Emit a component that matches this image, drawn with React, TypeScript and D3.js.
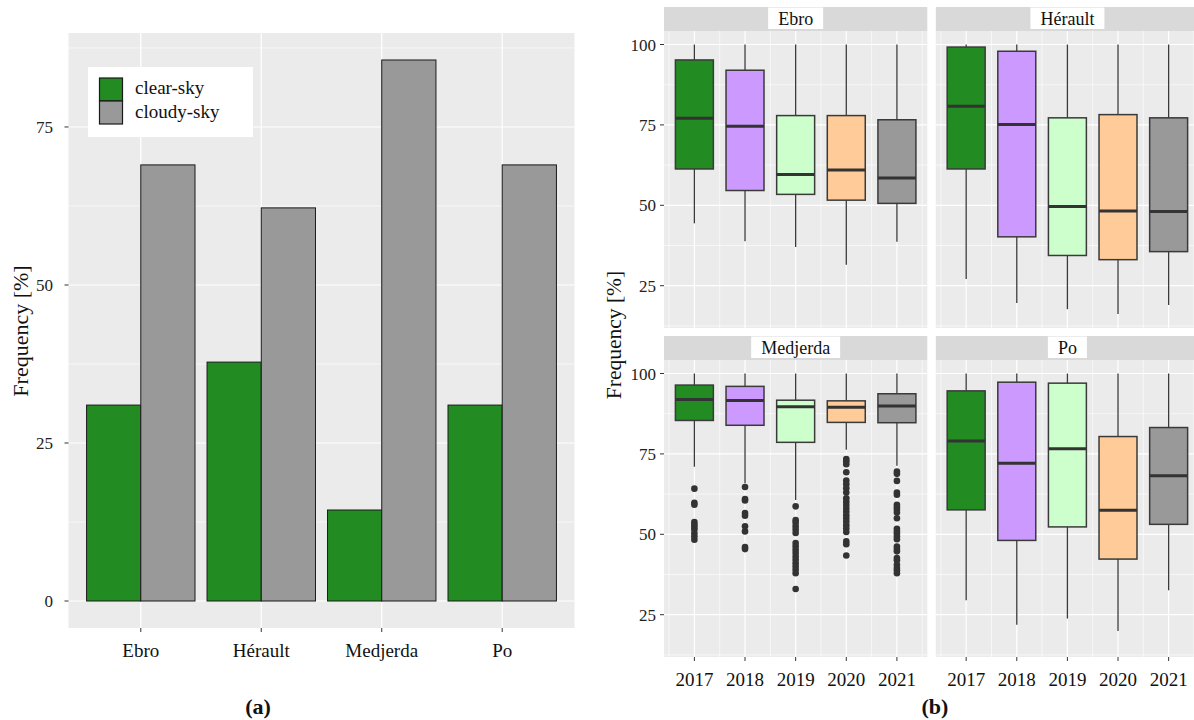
import * as d3 from 'd3';

// ── data: panel (a) ──
const regions = ['Ebro', 'Hérault', 'Medjerda', 'Po'];
const skyLabels = ['clear-sky', 'cloudy-sky'];
const skyColors = ['#228B22', '#999999'];
const clearSky = [31.0, 37.8, 14.4, 31.0];
const cloudySky = [69.0, 62.2, 85.6, 69.0];
const barTicks = [0, 25, 50, 75];

// ── data: panel (b) — [lower, q1, median, q3, upper] per year ──
const years = ['2017', '2018', '2019', '2020', '2021'];
const yearColors = ['#228B22', '#CC99FF', '#CCFFCC', '#FFCC99', '#999999'];
const boxTicks = [25, 50, 75, 100];

const ebroBoxes = [
  [44.4, 61.3, 77.1, 95.2, 100],
  [38.8, 54.6, 74.6, 92.0, 100],
  [37.0, 53.4, 59.6, 77.9, 100],
  [31.5, 51.6, 61.0, 77.9, 100],
  [38.7, 50.6, 58.5, 76.6, 100],
];
const heraultBoxes = [
  [27.1, 61.3, 80.8, 99.2, 100],
  [19.6, 40.2, 75.1, 97.9, 100],
  [17.7, 34.4, 49.6, 77.2, 100],
  [16.2, 33.1, 48.2, 78.2, 100],
  [19.0, 35.6, 48.1, 77.2, 100],
];
const medjerdaBoxes = [
  [71.0, 85.4, 91.9, 96.4, 100],
  [65.9, 83.9, 91.6, 96.0, 100],
  [60.7, 78.6, 89.7, 91.7, 100],
  [76.3, 84.8, 89.5, 91.5, 100],
  [71.3, 84.7, 89.9, 93.7, 100],
];
const poBoxes = [
  [29.5, 57.6, 79.0, 94.6, 100],
  [21.9, 48.1, 72.1, 97.3, 100],
  [23.8, 52.3, 76.6, 97.0, 100],
  [19.9, 42.3, 57.5, 80.4, 100],
  [32.6, 53.1, 68.2, 83.2, 100],
];
const medjerdaOutliers = [
  [64.2, 59.8, 59.2, 53.8, 53.0, 52.3, 51.5, 50.3, 49.3, 48.3],
  [64.7, 61.0, 60.5, 56.6, 55.8, 52.5, 50.9, 46.0, 45.4],
  [58.7, 54.4, 53.6, 52.5, 51.5, 50.4, 47.3, 46.3, 45.2, 44.2, 43.1, 42.1, 41.0, 40.0, 39.0, 37.9, 33.0],
  [73.4, 72.7, 71.8, 69.3, 66.7, 65.6, 64.3, 63.0, 61.2, 60.1, 59.1, 58.0, 57.0, 55.9, 54.9, 53.9, 52.8, 51.8, 50.7, 47.8, 46.9, 43.4],
  [69.5, 68.8, 66.6, 63.0, 62.3, 59.2, 58.4, 57.6, 56.8, 55.0, 51.7, 50.9, 50.2, 49.3, 48.5, 46.2, 45.4, 44.7, 42.6, 41.9, 40.5, 39.5, 38.8, 37.9],
];
const noOutliers = [[], [], [], [], []];

const facetBoxes = [ebroBoxes, heraultBoxes, medjerdaBoxes, poBoxes];
const facetOutliers = [noOutliers, noOutliers, medjerdaOutliers, noOutliers];

const FONT = "'Liberation Serif', 'DejaVu Serif', 'Times New Roman', serif";
const PANEL_BG = '#EBEBEB';
const STRIP_BG = '#D9D9D9';
const AXIS = '#333333';

// 대략적인 텍스트 폭 (strip 라벨 박스용)
function textWidth(txt: string, size: number) {
  const c = document.createElement('canvas').getContext('2d');
  if (!c) return txt.length * size * 0.5;
  c.font = `${size}px ${FONT}`;
  return c.measureText(txt).width;
}

function BarPanel() {
  const left = 68.5, right = 574.5, top = 33, bottom = 628;
  const x = d3.scaleLinear().domain([0.4, 4.6]).range([left, right]);
  const y = d3.scaleLinear().domain([-4.27, 89.87]).range([bottom, top]);
  const minor = barTicks.map((t) => t + 12.5);

  return (
    <g>
      <rect x={left} y={top} width={right - left} height={bottom - top} fill={PANEL_BG} />
      {minor.map((t) => (
        <line key={'m' + t} x1={left} x2={right} y1={y(t)} y2={y(t)} stroke="#fff" strokeWidth={0.6} />
      ))}
      {barTicks.map((t) => (
        <line key={'M' + t} x1={left} x2={right} y1={y(t)} y2={y(t)} stroke="#fff" strokeWidth={1.2} />
      ))}
      {regions.map((r, i) => (
        <line key={'v' + r} x1={x(i + 1)} x2={x(i + 1)} y1={top} y2={bottom} stroke="#fff" strokeWidth={1.2} />
      ))}

      {/* bars */}
      {regions.map((r, i) => (
        <g key={'b' + r}>
          <rect x={x(i + 0.55)} y={y(clearSky[i])} width={x(i + 1) - x(i + 0.55)}
            height={y(0) - y(clearSky[i])} fill={skyColors[0]} stroke="#1a1a1a" strokeWidth={1} />
          <rect x={x(i + 1)} y={y(cloudySky[i])} width={x(i + 1.45) - x(i + 1)}
            height={y(0) - y(cloudySky[i])} fill={skyColors[1]} stroke="#1a1a1a" strokeWidth={1} />
        </g>
      ))}

      {/* y axis */}
      {barTicks.map((t) => (
        <g key={'yt' + t}>
          <line x1={left - 4} x2={left} y1={y(t)} y2={y(t)} stroke={AXIS} strokeWidth={1} />
          <text x={53} y={y(t) + 6} textAnchor="end" fontSize={17} fill="#222">{t}</text>
        </g>
      ))}
      {/* x axis */}
      {regions.map((r, i) => (
        <g key={'xt' + r}>
          <line x1={x(i + 1)} x2={x(i + 1)} y1={bottom} y2={bottom + 4} stroke={AXIS} strokeWidth={1} />
          <text x={x(i + 1)} y={657} textAnchor="middle" fontSize={19} fill="#111">{r}</text>
        </g>
      ))}
      <text transform={`translate(28,331) rotate(-90)`} textAnchor="middle" fontSize={22} fill="#111">
        Frequency [%]
      </text>

      {/* legend */}
      <rect x={88} y={67} width={165} height={70} fill="#fff" />
      {skyLabels.map((s, i) => (
        <g key={'lg' + s}>
          <rect x={99.5} y={78 + i * 23} width={23} height={23} fill={skyColors[i]} stroke="#1a1a1a" strokeWidth={1.2} />
          <text x={135} y={94 + i * 23.5} fontSize={19} fill="#111">{s}</text>
        </g>
      ))}

      <text x={258} y={714} textAnchor="middle" fontSize={22} fontWeight="bold" fill="#111">(a)</text>
    </g>
  );
}

function BoxFacets() {
  const cols = [[664, 927.3], [935.8, 1199]];
  const rows = [[31, 328], [360, 657]];
  const stripH = 24;

  return (
    <g>
      {regions.map((name, r) => {
        const [x0, x1] = cols[r % 2];
        const [y0, y1] = rows[Math.floor(r / 2)];
        const x = d3.scaleLinear().domain([0.4, 5.6]).range([x0, x1]);
        const y = d3.scaleLinear().domain([11.85, 104.2]).range([y1, y0]);
        const boxes = facetBoxes[r];
        const outs = facetOutliers[r];
        const lw = textWidth(name, 18) + 20;
        const cx = (x0 + x1) / 2;
        const half = 0.375;
        return (
          <g key={name}>
            {/* strip */}
            <rect x={x0} y={y0 - stripH} width={x1 - x0} height={stripH} fill={STRIP_BG} />
            <rect x={cx - lw / 2} y={y0 - stripH + 0.5} width={lw} height={stripH - 2.5} fill="#fff" />
            <text x={cx} y={y0 - 6} textAnchor="middle" fontSize={18} fill="#111">{name}</text>

            {/* panel + grid */}
            <rect x={x0} y={y0} width={x1 - x0} height={y1 - y0} fill={PANEL_BG} />
            {boxTicks.map((t) => (
              <line key={'m' + t} x1={x0} x2={x1} y1={y(t - 12.5)} y2={y(t - 12.5)} stroke="#fff" strokeWidth={0.6} />
            ))}
            {years.map((yr, i) => (
              <line key={'vm' + yr} x1={x(i + 0.5)} x2={x(i + 0.5)} y1={y0} y2={y1} stroke="#fff" strokeWidth={0.6} />
            ))}
            <line x1={x(5.5)} x2={x(5.5)} y1={y0} y2={y1} stroke="#fff" strokeWidth={0.6} />
            {boxTicks.map((t) => (
              <line key={'M' + t} x1={x0} x2={x1} y1={y(t)} y2={y(t)} stroke="#fff" strokeWidth={1.2} />
            ))}
            {years.map((yr, i) => (
              <line key={'vM' + yr} x1={x(i + 1)} x2={x(i + 1)} y1={y0} y2={y1} stroke="#fff" strokeWidth={1.2} />
            ))}

            {/* boxes */}
            {boxes.map(([lo, q1, med, q3, hi], i) => (
              <g key={'bx' + i}>
                <line x1={x(i + 1)} x2={x(i + 1)} y1={y(q3)} y2={y(hi)} stroke="#3a3a3a" strokeWidth={1.3} />
                <line x1={x(i + 1)} x2={x(i + 1)} y1={y(q1)} y2={y(lo)} stroke="#3a3a3a" strokeWidth={1.3} />
                <rect x={x(i + 1 - half)} y={y(q3)} width={x(i + 1 + half) - x(i + 1 - half)}
                  height={y(q1) - y(q3)} fill={yearColors[i]} stroke="#3a3a3a" strokeWidth={1.5} />
                <line x1={x(i + 1 - half)} x2={x(i + 1 + half)} y1={y(med)} y2={y(med)} stroke="#333" strokeWidth={3} />
                {outs[i].map((v, k) => (
                  <circle key={k} cx={x(i + 1)} cy={y(v)} r={3.3} fill="#333" />
                ))}
              </g>
            ))}

            {/* y axis only on left column */}
            {r % 2 === 0 && boxTicks.map((t) => (
              <g key={'yt' + t}>
                <line x1={x0 - 4} x2={x0} y1={y(t)} y2={y(t)} stroke={AXIS} strokeWidth={1} />
                <text x={656} y={y(t) + 6} textAnchor="end" fontSize={17} fill="#222">{t}</text>
              </g>
            ))}
            {/* x axis only on bottom row */}
            {r >= 2 && years.map((yr, i) => (
              <g key={'xt' + yr}>
                <line x1={x(i + 1)} x2={x(i + 1)} y1={y1} y2={y1 + 4} stroke={AXIS} strokeWidth={1} />
                <text x={x(i + 1)} y={686} textAnchor="middle" fontSize={19} fill="#111">{yr}</text>
              </g>
            ))}
          </g>
        );
      })}
      <text transform="translate(621,335) rotate(-90)" textAnchor="middle" fontSize={21.5} fill="#111">
        Frequency [%]
      </text>
      <text x={935} y={714} textAnchor="middle" fontSize={22} fontWeight="bold" fill="#111">(b)</text>
    </g>
  );
}

export default function App() {
  return (
    <svg width={1194} height={720}
      style={{ position: 'absolute', left: 0, top: 0, background: '#fff', display: 'block', fontFamily: FONT }}>
      <BarPanel />
      <BoxFacets />
    </svg>
  );
}
